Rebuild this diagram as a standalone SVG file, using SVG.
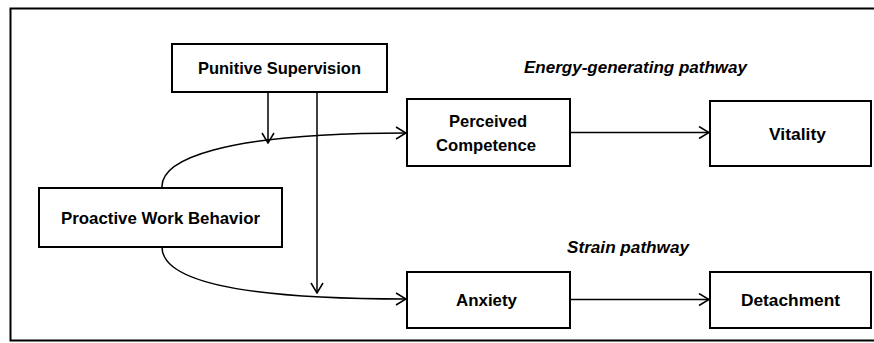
<svg xmlns="http://www.w3.org/2000/svg" width="874" height="343" viewBox="0 0 874 343">
<defs>
<marker id="arr" markerWidth="12" markerHeight="14" refX="11" refY="7" orient="auto" markerUnits="userSpaceOnUse">
<path d="M1,1 L11,7 L1,13" fill="none" stroke="#000" stroke-width="1.5"/>
</marker>
<style>
.box{fill:#fff;stroke:#000;stroke-width:2}
.t{font-family:"Liberation Sans",Arial,sans-serif;font-weight:bold;font-size:17px;fill:#000;text-anchor:middle}
.lab{font-family:"Liberation Sans",Arial,sans-serif;font-weight:bold;font-style:italic;font-size:17px;fill:#000;text-anchor:middle}
.c{fill:none;stroke:#000;stroke-width:1.5}
</style>
</defs>
<rect x="0" y="0" width="874" height="343" fill="#fff"/>
<rect x="10.5" y="8.5" width="870" height="332" fill="none" stroke="#000" stroke-width="2"/>
<g id="connectors">
<path class="c" d="M162,188 C160,160 220,133 406,133" marker-end="url(#arr)"/>
<path class="c" d="M162,247 C162,285 260,299 406,299" marker-end="url(#arr)"/>
<path class="c" d="M268,92 L268,143" marker-end="url(#arr)"/>
<path class="c" d="M317,92 L317,293" marker-end="url(#arr)"/>
<path class="c" d="M570,132.5 L709,132.5" marker-end="url(#arr)"/>
<path class="c" d="M570,299.5 L709,299.5" marker-end="url(#arr)"/>
</g>
<g id="punitive"><rect class="box" x="172" y="44" width="215" height="48"/><text class="t" x="279.5" y="74" textLength="163" lengthAdjust="spacingAndGlyphs">Punitive Supervision</text></g>
<g id="proactive"><rect class="box" x="39" y="188" width="243" height="59"/><text class="t" x="160.5" y="224" textLength="199" lengthAdjust="spacingAndGlyphs">Proactive Work Behavior</text></g>
<g id="competence"><rect class="box" x="407" y="99" width="163" height="67"/><text class="t" x="488" y="127" textLength="78" lengthAdjust="spacingAndGlyphs">Perceived</text><text class="t" x="486" y="151" textLength="100" lengthAdjust="spacingAndGlyphs">Competence</text></g>
<g id="vitality"><rect class="box" x="710" y="101" width="161" height="65"/><text class="t" x="797.5" y="140" textLength="57" lengthAdjust="spacingAndGlyphs">Vitality</text></g>
<g id="anxiety"><rect class="box" x="407" y="272" width="163" height="56"/><text class="t" x="486.5" y="306" textLength="61" lengthAdjust="spacingAndGlyphs">Anxiety</text></g>
<g id="detachment"><rect class="box" x="710" y="272" width="161" height="56"/><text class="t" x="790.5" y="306" textLength="99" lengthAdjust="spacingAndGlyphs">Detachment</text></g>
<text class="lab" x="635.5" y="73" textLength="223" lengthAdjust="spacingAndGlyphs">Energy-generating pathway</text>
<text class="lab" x="628" y="253" textLength="122" lengthAdjust="spacingAndGlyphs">Strain pathway</text>
</svg>
